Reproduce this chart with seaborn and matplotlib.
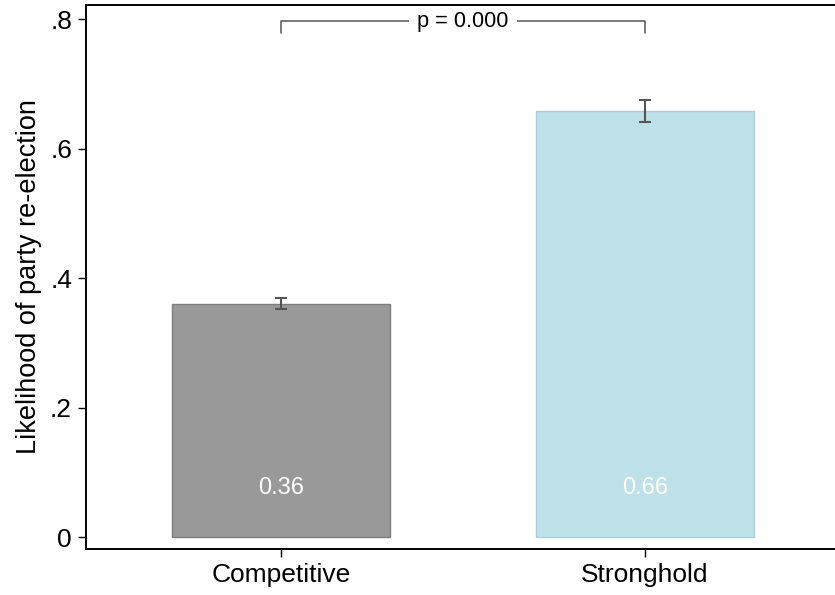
import numpy as np
import pandas as pd
import matplotlib
matplotlib.use("Agg")
import matplotlib.pyplot as plt
import seaborn as sns

# ── data ──────────────────────────────────────────
groups = ["Competitive", "Stronghold"]
means = [0.360, 0.658]
ci_low = [0.352, 0.642]
ci_high = [0.370, 0.675]
p_label = "p = 0.000"
yticks = [0, 0.2, 0.4, 0.6, 0.8]
ytick_labels = ["0", ".2", ".4", ".6", ".8"]

df = pd.DataFrame({"group": groups, "mean": means})

sns.set_style("white")
plt.rcParams["font.family"] = ["Liberation Sans", "DejaVu Sans"]
plt.rcParams["text.color"] = "black"
plt.rcParams["axes.labelcolor"] = "black"
plt.rcParams["xtick.color"] = "black"
plt.rcParams["ytick.color"] = "black"

W, H = 835, 595
fig = plt.figure(figsize=(W / 100, H / 100), dpi=100)
ax = fig.add_axes([86 / W, 1 - 549 / H, (840 - 86) / W, (549 - 5) / H])

sns.barplot(data=df, x="group", y="mean", hue="group",
            palette=["#999999", "#bee0e8"], width=0.6,
            errorbar=None, legend=False, ax=ax, saturation=1)
edges = ["#7d7d7d", "#a6d0db"]
for patch, ec in zip(ax.patches, edges):
    patch.set_edgecolor(ec)
    patch.set_linewidth(1)

# confidence intervals
x = np.arange(len(groups))
m = np.array(means)
ax.errorbar(x, m, yerr=[m - np.array(ci_low), np.array(ci_high) - m],
            fmt="none", ecolor="#555555", elinewidth=1.5, capsize=4.3, capthick=1.5)

# value labels inside bars
for xi, v in zip(x, means):
    ax.text(xi, 0.075, f"{v:.2f}", ha="center", va="center",
            color="white", fontsize=17)

# significance bracket
yb, yd = 0.797, 0.778
ax.plot([x[0], x[0], x[1], x[1]], [yd, yb, yb, yd], color="#555555", lw=1.1)
ax.text(x.mean(), yb, f" {p_label} ", ha="center", va="center", fontsize=15.7,
        bbox=dict(facecolor="white", edgecolor="none", pad=1.5))

ax.set_ylim(-0.0185, 0.822)
ax.set_xlim(-0.536, 1.536)
ax.set_yticks(yticks)
ax.set_yticklabels(ytick_labels)
ax.set_xlabel("")
ax.set_ylabel("Likelihood of party re-election", fontsize=19.5, labelpad=6)
ax.tick_params(axis="both", which="both", direction="out", length=6,
               width=1, color="black", labelsize=19, left=True, bottom=True)
ax.tick_params(axis="y", pad=4)
ax.tick_params(axis="x", pad=4)

for side in ["left", "bottom", "top", "right"]:
    ax.spines[side].set_visible(True)
    ax.spines[side].set_color("black")
    ax.spines[side].set_linewidth(1.4)

fig.savefig("out.png", dpi=100, facecolor="white")
